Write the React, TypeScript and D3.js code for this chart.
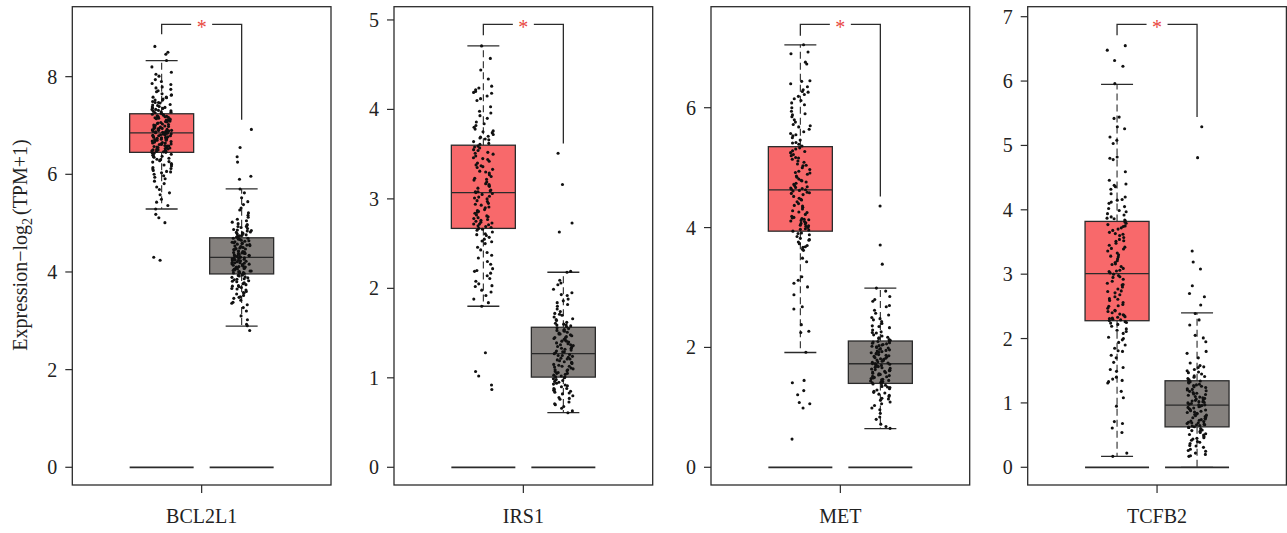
import React from "react";
import * as d3 from "d3";

// ---------------- data ----------------
const genes = ["BCL2L1", "IRS1", "MET", "TCFB2"];
const groups = ["Tumor", "Normal"];

// box stats: [lower whisker, Q1, median, Q3, upper whisker]
const tumorStats = [
  [5.29, 6.45, 6.85, 7.24, 8.33],
  [1.80, 2.67, 3.07, 3.60, 4.71],
  [1.915, 3.94, 4.63, 5.35, 7.05],
  [0.169, 2.277, 3.01, 3.82, 5.95],
];
const normalStats = [
  [2.89, 3.96, 4.30, 4.70, 5.70],
  [0.61, 1.008, 1.27, 1.565, 2.18],
  [0.646, 1.40, 1.728, 2.107, 2.99],
  [0.0, 0.628, 0.965, 1.344, 2.40],
];
// significance bracket: top value, left leg end, right leg end
const bracketTop = [9.07, 4.95, 7.39, 6.88];
const bracketLegs = [
  [8.87, 7.12],
  [4.83, 3.62],
  [7.2, 4.52],
  [6.71, 5.44],
];
const yTicks = [
  [0, 2, 4, 6, 8],
  [0, 1, 2, 3, 4, 5],
  [0, 2, 4, 6],
  [0, 1, 2, 3, 4, 5, 6, 7],
];

// individual samples
const bcl2l1Tumor = [
  8.62, 8.50, 8.46, 8.33, 8.20, 8.09, 8.05, 8.01, 7.94, 7.90, 7.86, 7.84, 7.79, 7.77, 7.74, 7.71, 7.69, 7.65, 7.63, 7.62,
  7.58, 7.57, 7.54, 7.52, 7.49, 7.47, 7.46, 7.43, 7.42, 7.39, 7.38, 7.36, 7.35, 7.33, 7.31, 7.30, 7.29, 7.27, 7.26, 7.25,
  7.23, 7.22, 7.21, 7.19, 7.18, 7.18, 7.16, 7.15, 7.13, 7.12, 7.11, 7.09, 7.08, 7.07, 7.05, 7.04, 7.03, 7.02, 7.00, 6.99,
  6.98, 6.97, 6.96, 6.95, 6.94, 6.93, 6.92, 6.91, 6.90, 6.90, 6.89, 6.88, 6.87, 6.86, 6.86, 6.85, 6.85,
  6.84, 6.83, 6.82, 6.81, 6.80, 6.79, 6.78, 6.77, 6.76, 6.75, 6.74, 6.73, 6.72, 6.71, 6.70, 6.69, 6.68, 6.66, 6.65, 6.64,
  6.63, 6.62, 6.61, 6.59, 6.58, 6.57, 6.56, 6.55, 6.54, 6.52, 6.51, 6.50, 6.49, 6.48, 6.47, 6.46, 6.45,
  6.43, 6.41, 6.39, 6.37, 6.35, 6.33, 6.30, 6.28, 6.25, 6.22, 6.20, 6.17, 6.14, 6.11, 6.08, 6.05, 6.03, 6.00, 5.97, 5.94,
  5.91, 5.86, 5.81, 5.74, 5.69, 5.62, 5.58, 5.49, 5.43, 5.36, 5.29, 5.18, 5.11, 5.01, 4.30, 4.24,
  7.58, 7.52, 7.47, 7.41, 7.37, 7.33, 7.28, 7.24, 7.20, 7.17, 7.14, 7.10, 7.06, 7.01, 6.97, 6.94, 6.91, 6.88, 6.84, 6.81,
  6.79, 6.76, 6.73, 6.70, 6.67, 6.64, 6.61, 6.58, 6.55, 6.53, 6.50, 6.47, 6.44, 6.40, 6.36, 6.31, 6.26, 6.19, 6.12, 6.06,
];
const bcl2l1Normal = [
  6.92, 6.55, 6.36, 6.25, 5.96, 5.90, 5.70, 5.62, 5.52, 5.44, 5.38, 5.31, 5.27, 5.21, 5.16, 5.12, 5.08, 5.05, 5.02, 4.99,
  4.97, 4.95, 4.93, 4.91, 4.89, 4.87, 4.86, 4.84, 4.82, 4.81, 4.79, 4.78, 4.76, 4.75, 4.73, 4.72, 4.71,
  4.69, 4.68, 4.67, 4.66, 4.65, 4.63, 4.62, 4.61, 4.60, 4.59, 4.57, 4.56, 4.55, 4.54, 4.53, 4.51, 4.50, 4.49, 4.48, 4.47,
  4.46, 4.45, 4.43, 4.42, 4.41, 4.40, 4.39, 4.38, 4.37, 4.36, 4.35, 4.34, 4.33, 4.32, 4.31, 4.30,
  4.29, 4.28, 4.27, 4.26, 4.25, 4.24, 4.23, 4.22, 4.21, 4.20, 4.19, 4.18, 4.17, 4.16, 4.15, 4.13, 4.12, 4.11, 4.10, 4.09,
  4.08, 4.07, 4.06, 4.05, 4.04, 4.03, 4.02, 4.01, 4.00, 3.99, 3.98, 3.97, 3.96,
  3.94, 3.92, 3.90, 3.88, 3.86, 3.84, 3.82, 3.80, 3.78, 3.76, 3.74, 3.72, 3.70, 3.68, 3.66, 3.63, 3.60, 3.58, 3.55, 3.52,
  3.49, 3.46, 3.42, 3.38, 3.33, 3.27, 3.20, 3.10, 3.02, 2.93, 2.90, 2.80,
  4.93, 4.85, 4.80, 4.74, 4.69, 4.64, 4.58, 4.52, 4.47, 4.42, 4.38, 4.33, 4.28, 4.24, 4.19, 4.14, 4.10, 4.06, 4.02, 3.98,
  3.93, 3.89, 3.85, 3.81, 3.77, 3.71, 3.65, 3.57, 3.48, 3.36,
];
const irs1Tumor = [
  4.71, 4.57, 4.44, 4.34, 4.26, 4.24, 4.22, 4.20, 4.18, 4.15, 4.12, 4.10, 4.03, 3.96, 3.93, 3.90, 3.86, 3.82, 3.80, 3.78,
  3.76, 3.74, 3.72, 3.70, 3.69, 3.67, 3.66, 3.64, 3.62, 3.61,
  3.59, 3.57, 3.55, 3.54, 3.52, 3.50, 3.48, 3.46, 3.44, 3.42, 3.40, 3.38, 3.36, 3.35, 3.33, 3.31, 3.29, 3.27, 3.25, 3.23,
  3.21, 3.19, 3.17, 3.16, 3.14, 3.12, 3.10, 3.09, 3.08, 3.07,
  3.06, 3.05, 3.03, 3.02, 3.00, 2.98, 2.97, 2.95, 2.93, 2.91, 2.90, 2.88, 2.87, 2.85, 2.84, 2.82, 2.80, 2.79, 2.78, 2.76,
  2.75, 2.74, 2.73, 2.72, 2.71, 2.70, 2.69, 2.68, 2.67,
  2.65, 2.63, 2.61, 2.59, 2.57, 2.55, 2.53, 2.50, 2.46, 2.40, 2.37, 2.34, 2.30, 2.27, 2.22, 2.20, 2.17, 2.14, 2.11, 2.08,
  2.05, 2.02, 1.98, 1.96, 1.92, 1.88, 1.84, 1.80, 1.28, 1.07, 1.02, 0.92, 0.87,
  4.19, 3.98, 3.84, 3.75, 3.68, 3.58, 3.51, 3.45, 3.37, 3.30, 3.22, 3.15, 3.08, 3.01, 2.94, 2.86, 2.81, 2.77, 2.72, 2.66,
  2.60, 2.52, 2.43, 2.19, 2.03,
];
const irs1Normal = [
  3.51, 3.16, 2.73, 2.63, 2.19, 2.18, 2.09, 2.06, 2.04, 1.99, 1.95, 1.92, 1.88, 1.86, 1.84, 1.80, 1.77, 1.74, 1.72, 1.70,
  1.68, 1.66, 1.64, 1.62, 1.61, 1.60, 1.59, 1.58, 1.57,
  1.56, 1.55, 1.54, 1.53, 1.52, 1.51, 1.50, 1.49, 1.48, 1.47, 1.46, 1.45, 1.44, 1.43, 1.42, 1.41, 1.40, 1.39, 1.38, 1.37,
  1.36, 1.35, 1.34, 1.33, 1.32, 1.31, 1.30, 1.29, 1.28, 1.27,
  1.26, 1.25, 1.24, 1.23, 1.22, 1.21, 1.20, 1.19, 1.18, 1.17, 1.16, 1.15, 1.14, 1.13, 1.12, 1.11, 1.10, 1.09, 1.08, 1.07,
  1.06, 1.05, 1.04, 1.03, 1.02, 1.01,
  1.00, 0.99, 0.98, 0.96, 0.95, 0.94, 0.93, 0.91, 0.90, 0.88, 0.87, 0.86, 0.85, 0.83, 0.82, 0.80, 0.78, 0.76, 0.73, 0.71,
  0.68, 0.66, 0.63, 0.61,
  1.93, 1.82, 1.71, 1.65, 1.59, 1.53, 1.49, 1.45, 1.41, 1.37, 1.33, 1.29, 1.25, 1.21, 1.17, 1.13, 1.09, 1.05, 1.01, 0.97,
  0.92, 0.88, 0.84, 0.77, 0.70,
];
const metTumor = [
  7.05, 6.93, 6.90, 6.76, 6.73, 6.44, 6.40, 6.35, 6.30, 6.26, 6.22, 6.19, 6.15, 6.12, 6.05, 6.00, 5.94, 5.90, 5.85, 5.80,
  5.76, 5.72, 5.68, 5.64, 5.60, 5.57, 5.53, 5.50, 5.46, 5.42, 5.39, 5.36,
  5.33, 5.31, 5.28, 5.25, 5.22, 5.20, 5.17, 5.14, 5.11, 5.09, 5.06, 5.03, 5.00, 4.97, 4.94, 4.92, 4.89, 4.86, 4.84, 4.81,
  4.79, 4.76, 4.74, 4.72, 4.70, 4.68, 4.66, 4.65, 4.64, 4.63,
  4.62, 4.61, 4.59, 4.57, 4.55, 4.52, 4.49, 4.46, 4.43, 4.40, 4.37, 4.34, 4.31, 4.28, 4.25, 4.22, 4.19, 4.17, 4.15, 4.14,
  4.13, 4.12, 4.10, 4.08, 4.06, 4.04, 4.02, 4.00, 3.98, 3.96, 3.94,
  3.91, 3.88, 3.85, 3.82, 3.79, 3.76, 3.73, 3.70, 3.67, 3.64, 3.62, 3.49, 3.43, 3.18, 3.12, 3.07, 3.01, 2.88, 2.68, 2.64,
  2.38, 2.27, 2.25, 1.92, 1.45, 1.41, 1.28, 1.21, 1.08, 1.06, 0.99, 0.47,
  6.45, 6.27, 6.08, 5.88, 5.70, 5.55, 5.41, 5.27, 5.16, 5.04, 4.91, 4.78, 4.67, 4.58, 4.47, 4.36, 4.26, 4.16, 4.11, 4.07,
  4.03, 3.97, 3.90, 3.80, 3.68,
];
const metNormal = [
  4.36, 3.71, 3.39, 2.99, 2.94, 2.85, 2.80, 2.77, 2.70, 2.62, 2.57, 2.54, 2.50, 2.46, 2.43, 2.40, 2.36, 2.33, 2.29, 2.26,
  2.24, 2.21, 2.19, 2.17, 2.15, 2.13, 2.12, 2.11,
  2.10, 2.09, 2.08, 2.06, 2.05, 2.04, 2.02, 2.01, 2.00, 1.99, 1.97, 1.96, 1.95, 1.93, 1.92, 1.91, 1.89, 1.88, 1.87, 1.85,
  1.84, 1.83, 1.81, 1.80, 1.79, 1.77, 1.76, 1.75, 1.74, 1.73,
  1.72, 1.71, 1.70, 1.69, 1.68, 1.67, 1.65, 1.64, 1.63, 1.62, 1.61, 1.60, 1.58, 1.57, 1.56, 1.55, 1.54, 1.53, 1.51, 1.50,
  1.49, 1.48, 1.47, 1.45, 1.44, 1.43, 1.42, 1.41,
  1.39, 1.37, 1.35, 1.33, 1.31, 1.29, 1.27, 1.25, 1.22, 1.20, 1.18, 1.15, 1.12, 1.09, 1.06, 1.03, 0.99, 0.96, 0.90, 0.84,
  0.80, 0.72, 0.68, 0.65,
  2.68, 2.48, 2.35, 2.25, 2.16, 2.07, 2.03, 1.98, 1.94, 1.90, 1.86, 1.82, 1.78, 1.73, 1.69, 1.66, 1.62, 1.59, 1.55, 1.52,
  1.46, 1.40, 1.34, 1.24, 1.14,
];
const tcfb2Tumor = [
  6.55, 6.48, 6.32, 6.23, 5.96, 5.44, 5.42, 5.29, 5.26, 5.13, 5.08, 5.03, 4.82, 4.80, 4.78, 4.59, 4.46, 4.38, 4.36, 4.32,
  4.25, 4.20, 4.15, 4.12, 4.10, 4.05, 4.02, 3.97, 3.94, 3.92, 3.89, 3.87, 3.84, 3.83,
  3.81, 3.79, 3.77, 3.75, 3.72, 3.70, 3.68, 3.65, 3.62, 3.60, 3.57, 3.54, 3.51, 3.48, 3.45, 3.42, 3.39, 3.36, 3.33, 3.30,
  3.27, 3.24, 3.21, 3.18, 3.15, 3.12, 3.09, 3.06, 3.04, 3.02,
  3.00, 2.98, 2.95, 2.92, 2.89, 2.86, 2.83, 2.80, 2.77, 2.74, 2.71, 2.68, 2.65, 2.62, 2.59, 2.56, 2.53, 2.50, 2.47, 2.44,
  2.42, 2.40, 2.38, 2.36, 2.34, 2.32, 2.31, 2.30, 2.29, 2.28,
  2.26, 2.24, 2.22, 2.19, 2.15, 2.11, 2.08, 2.02, 1.98, 1.94, 1.90, 1.85, 1.80, 1.74, 1.70, 1.63, 1.55, 1.49, 1.40, 1.37,
  1.35, 1.31, 1.18, 1.08, 0.95, 0.71, 0.68, 0.61, 0.54, 0.22, 0.17,
  4.40, 4.16, 3.99, 3.86, 3.74, 3.63, 3.52, 3.40, 3.28, 3.16, 3.05, 2.96, 2.84, 2.73, 2.61, 2.51, 2.43, 2.37, 2.33, 2.25,
  2.13, 2.00, 1.81, 1.52, 1.33,
];
const tcfb2Normal = [
  5.29, 4.81, 3.36, 3.19, 3.08, 2.82, 2.70, 2.65, 2.52, 2.39, 2.29, 2.21, 2.05, 2.01, 1.95, 1.80, 1.77, 1.70, 1.62, 1.58,
  1.55, 1.52, 1.50, 1.47, 1.45, 1.42, 1.40, 1.38, 1.36, 1.35,
  1.33, 1.32, 1.31, 1.29, 1.28, 1.27, 1.25, 1.24, 1.22, 1.21, 1.19, 1.18, 1.16, 1.15, 1.13, 1.12, 1.10, 1.09, 1.08, 1.06,
  1.05, 1.04, 1.03, 1.02, 1.01, 1.00, 0.99, 0.98, 0.97,
  0.96, 0.95, 0.94, 0.93, 0.91, 0.90, 0.89, 0.88, 0.86, 0.85, 0.84, 0.83, 0.81, 0.80, 0.79, 0.78, 0.76, 0.75, 0.74, 0.72,
  0.71, 0.70, 0.69, 0.68, 0.67, 0.66, 0.65, 0.64, 0.63,
  0.62, 0.60, 0.58, 0.56, 0.54, 0.52, 0.50, 0.48, 0.46, 0.44, 0.42, 0.40, 0.37, 0.34, 0.31, 0.28, 0.25, 0.22, 0.18, 0.17,
  1.56, 1.48, 1.41, 1.34, 1.26, 1.20, 1.14, 1.07, 1.02, 0.97, 0.92, 0.87, 0.82, 0.77, 0.73, 0.69, 0.66, 0.62, 0.57, 0.51,
  0.45, 0.39, 0.33, 0.26, 0.20,
];
const tumorSamples = [bcl2l1Tumor, irs1Tumor, metTumor, tcfb2Tumor];
const normalSamples = [bcl2l1Normal, irs1Normal, metNormal, tcfb2Normal];

// ---------------- layout ----------------
const WIDTH = 1287;
const HEIGHT = 533;
const panelLeft = [72.3, 394, 711, 1027.7];
const PANEL_W = 258.7;
const TOP = 6.7;
const BOTTOM = 485;
const BOX_W = 64;
const HALF_GAP = 40;
const JITTER = 10;
const FONT = "'Liberation Serif', 'DejaVu Serif', serif";
const RED = "#f8696b";
const GREY = "#85817e";
const INK = "#2b2b2b";

function Panel({ i }: { i: number }) {
  const left = panelLeft[i];
  const cx = left + PANEL_W / 2;
  const M = bracketTop[i];
  const y = d3.scaleLinear().domain([-0.04 * M, 1.04 * M]).range([BOTTOM, TOP]);
  const x = d3.scalePoint<string>().domain(groups).range([cx - HALF_GAP, cx + HALF_GAP]);
  const stats = [tumorStats[i], normalStats[i]];
  const samples = [tumorSamples[i], normalSamples[i]];
  const fills = [RED, GREY];
  const [legL, legR] = bracketLegs[i];
  const xT = x(groups[0])!;
  const xN = x(groups[1])!;
  const yb = y(M);
  const gap = 10.5;

  return (
    <g>
      <rect x={left} y={TOP} width={PANEL_W} height={BOTTOM - TOP} fill="none" stroke={INK} strokeWidth={1.3} />
      {yTicks[i].map((t) => (
        <g key={t}>
          <line x1={left - 7} x2={left} y1={y(t)} y2={y(t)} stroke={INK} strokeWidth={1.2} />
          <text x={left - 15} y={y(t)} dy="0.35em" textAnchor="end" fontFamily={FONT} fontSize={20} fill="#222">
            {t}
          </text>
        </g>
      ))}
      <line x1={cx} x2={cx} y1={BOTTOM} y2={BOTTOM + 8} stroke={INK} strokeWidth={1.2} />
      <text x={cx} y={522.5} textAnchor="middle" fontFamily={FONT} fontSize={20} fill="#222">
        {genes[i]}
      </text>
      {groups.map((g) => (
        <line key={"z" + g} x1={x(g)! - BOX_W / 2} x2={x(g)! + BOX_W / 2} y1={y(0)} y2={y(0)} stroke={INK} strokeWidth={1.7} />
      ))}
      {groups.map((g, k) => {
        const [lo, q1, med, q3, hi] = stats[k];
        const gx = x(g)!;
        return (
          <g key={g}>
            <line x1={gx} x2={gx} y1={y(q3)} y2={y(hi)} stroke={INK} strokeWidth={1.1} strokeDasharray="7,4" />
            <line x1={gx} x2={gx} y1={y(q1)} y2={y(lo)} stroke={INK} strokeWidth={1.1} strokeDasharray="7,4" />
            <line x1={gx - BOX_W / 4} x2={gx + BOX_W / 4} y1={y(hi)} y2={y(hi)} stroke={INK} strokeWidth={1.3} />
            <line x1={gx - BOX_W / 4} x2={gx + BOX_W / 4} y1={y(lo)} y2={y(lo)} stroke={INK} strokeWidth={1.3} />
            <rect x={gx - BOX_W / 2} y={y(q3)} width={BOX_W} height={y(q1) - y(q3)} fill={fills[k]} stroke={INK} strokeWidth={1.3} />
            <line x1={gx - BOX_W / 2} x2={gx + BOX_W / 2} y1={y(med)} y2={y(med)} stroke={INK} strokeWidth={1.3} />
          </g>
        );
      })}
      {groups.map((g, k) => {
        const rng = d3.randomLcg(0.137 + i * 0.21 + k * 0.093);
        const gx = x(g)!;
        return (
          <g key={"p" + g}>
            {samples[k].map((v, j) => (
              <circle key={j} cx={gx + (rng() - 0.5) * 2 * JITTER} cy={y(v)} r={1.55} fill="#111" />
            ))}
          </g>
        );
      })}
      <path
        d={`M${xT},${y(legL)}V${yb}H${cx - gap}M${cx + gap},${yb}H${xN}V${y(legR)}`}
        fill="none"
        stroke={INK}
        strokeWidth={1.3}
      />
      <text x={cx} y={yb + 10} textAnchor="middle" fontFamily={FONT} fontSize={20} fill="#e8473f">
        *
      </text>
    </g>
  );
}

export default function App() {
  return (
    <svg
      width={WIDTH}
      height={HEIGHT}
      viewBox={`0 0 ${WIDTH} ${HEIGHT}`}
      style={{ position: "absolute", left: 0, top: 0, background: "#fff" }}
    >
      <rect width={WIDTH} height={HEIGHT} fill="#fff" />
      {genes.map((_, i) => (
        <Panel key={i} i={i} />
      ))}
      <text transform="translate(27,245) rotate(-90)" textAnchor="middle" fontFamily={FONT} fontSize={20} fill="#222">
        Expression−log
        <tspan dy={5} fontSize={14}>2</tspan>
        <tspan dy={-5} dx={3}>(TPM+1)</tspan>
      </text>
    </svg>
  );
}
